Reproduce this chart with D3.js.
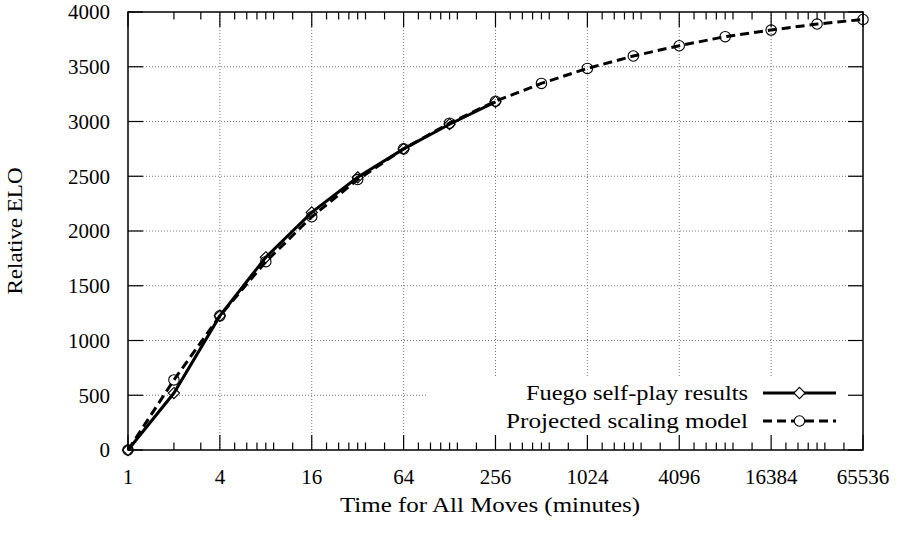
<!DOCTYPE html>
<html>
<head>
<meta charset="utf-8">
<script src="https://cdn.jsdelivr.net/npm/d3@7"></script>
<style>
  body { margin: 0; background: #fff; }
  text { font-family: "Liberation Serif", "DejaVu Serif", serif; fill: #000; }
</style>
</head>
<body>
<div id="chart"></div>
<script>
// minutes for all moves (powers of two)
const fuegoTimes = [1, 2, 4, 8, 16, 32, 64, 128, 256];
const fuegoElo = [0, 520, 1225, 1760, 2170, 2490, 2750, 2975, 3180];

const modelTimes = [1, 2, 4, 8, 16, 32, 64, 128, 256, 512, 1024, 2048, 4096, 8192, 16384, 32768, 65536];
const modelElo = [0, 640, 1225, 1720, 2130, 2470, 2750, 2985, 3185, 3348, 3485, 3598, 3692, 3775, 3835, 3890, 3932];

const xTicks = [1, 4, 16, 64, 256, 1024, 4096, 16384, 65536];
const yTicks = [0, 500, 1000, 1500, 2000, 2500, 3000, 3500, 4000];
// minor tick multiples inside each base-4 step
const firstMinor = [2, 3];
const minorMult = [1.25, 1.5, 1.75, 2, 2.25, 3];

const seriesNames = ["Fuego self-play results", "Projected scaling model"];

const width = 903, height = 537;
const margin = {top: 12, right: 40, bottom: 87, left: 128};

const svg = d3.select("#chart").append("svg")
    .attr("width", width)
    .attr("height", height);

const x = d3.scaleLog().base(4)
    .domain([1, 65536])
    .range([margin.left, width - margin.right]);

const y = d3.scaleLinear()
    .domain([0, 4000])
    .range([height - margin.bottom, margin.top]);

const x0 = x.range()[0], x1 = x.range()[1];
const yb = y.range()[0], yt = y.range()[1];

// minor tick values
let minorTicks = firstMinor.slice();
for (let k = 1; k < 8; k++) {
    minorMult.forEach(m => minorTicks.push(m * Math.pow(4, k)));
}

// grid
const grid = svg.append("g")
    .attr("stroke", "#777")
    .attr("stroke-width", 1)
    .attr("stroke-dasharray", "1,2");

grid.selectAll(".gx")
    .data(xTicks.slice(1, -1))
    .enter().append("line")
    .attr("x1", d => x(d)).attr("x2", d => x(d))
    .attr("y1", yt).attr("y2", yb);

grid.selectAll(".gy")
    .data(yTicks.slice(1, -1))
    .enter().append("line")
    .attr("x1", x0).attr("x2", x1)
    .attr("y1", d => y(d)).attr("y2", d => y(d));

// legend background hides the grid
svg.append("rect")
    .attr("x", 428).attr("y", 378)
    .attr("width", x1 - 428).attr("height", yb - 378)
    .attr("fill", "#fff");

// axes with mirrored ticks
const tk = svg.append("g").attr("stroke", "#000").attr("stroke-width", 1.2);

[yb, yt].forEach((yy, i) => {
    const dir = i === 0 ? -1 : 1;
    tk.selectAll(null).data(xTicks).enter().append("line")
        .attr("x1", d => x(d)).attr("x2", d => x(d))
        .attr("y1", yy).attr("y2", yy + dir * 15);
    tk.selectAll(null).data(minorTicks).enter().append("line")
        .attr("x1", d => x(d)).attr("x2", d => x(d))
        .attr("y1", yy).attr("y2", yy + dir * 7.5);
});

[x0, x1].forEach((xx, i) => {
    const dir = i === 0 ? 1 : -1;
    tk.selectAll(null).data(yTicks).enter().append("line")
        .attr("x1", xx).attr("x2", xx + dir * 15)
        .attr("y1", d => y(d)).attr("y2", d => y(d));
});

svg.append("rect")
    .attr("x", x0).attr("y", yt)
    .attr("width", x1 - x0).attr("height", yb - yt)
    .attr("fill", "none")
    .attr("stroke", "#000")
    .attr("stroke-width", 1.5);

// tick labels
svg.selectAll(".xl")
    .data(xTicks)
    .enter().append("text")
    .attr("x", d => x(d))
    .attr("y", yb + 34)
    .attr("text-anchor", "middle")
    .attr("font-size", 21)
    .text(d => d);

svg.selectAll(".yl")
    .data(yTicks)
    .enter().append("text")
    .attr("x", 110)
    .attr("y", d => y(d))
    .attr("dy", "0.35em")
    .attr("text-anchor", "end")
    .attr("font-size", 21)
    .text(d => d);

// axis titles
svg.append("text")
    .attr("x", 490)
    .attr("y", 512)
    .attr("text-anchor", "middle")
    .attr("font-size", 20)
    .attr("textLength", 300)
    .attr("lengthAdjust", "spacingAndGlyphs")
    .text("Time for All Moves (minutes)");

svg.append("text")
    .attr("transform", "translate(22," + ((yt + yb) / 2) + ") rotate(-90)")
    .attr("text-anchor", "middle")
    .attr("font-size", 20)
    .attr("textLength", 127)
    .attr("lengthAdjust", "spacingAndGlyphs")
    .text("Relative ELO");

// series
const fuego = fuegoTimes.map((t, i) => ({t: t, v: fuegoElo[i]}));
const model = modelTimes.map((t, i) => ({t: t, v: modelElo[i]}));

const line = d3.line()
    .x(d => x(d.t))
    .y(d => y(d.v));

const diamond = d3.symbol().type(d3.symbolDiamond2).size(80);
const circle = d3.symbol().type(d3.symbolCircle).size(85);

function drawSeries(data, dash, sym) {
    svg.append("path")
        .datum(data)
        .attr("fill", "none")
        .attr("stroke", "#000")
        .attr("stroke-width", 3)
        .attr("stroke-dasharray", dash)
        .attr("d", line);

    svg.selectAll(null)
        .data(data)
        .enter().append("path")
        .attr("transform", d => "translate(" + x(d.t) + "," + y(d.v) + ")")
        .attr("d", sym)
        .attr("fill", "none")
        .attr("stroke", "#000")
        .attr("stroke-width", 1.1);
}

drawSeries(model, "9,5", circle);
drawSeries(fuego, null, diamond);

// legend
const legend = svg.append("g");
const legendRows = [
    {name: seriesNames[0], dash: null, sym: diamond, y: 393, len: 222},
    {name: seriesNames[1], dash: "9,5", sym: circle, y: 421, len: 242}
];

legendRows.forEach(r => {
    legend.append("text")
        .attr("x", 748)
        .attr("y", r.y)
        .attr("dy", "0.35em")
        .attr("text-anchor", "end")
        .attr("font-size", 20)
        .attr("textLength", r.len)
        .attr("lengthAdjust", "spacingAndGlyphs")
        .text(r.name);
    legend.append("line")
        .attr("x1", 763).attr("x2", 836)
        .attr("y1", r.y).attr("y2", r.y)
        .attr("stroke", "#000")
        .attr("stroke-width", 3)
        .attr("stroke-dasharray", r.dash);
    legend.append("path")
        .attr("transform", "translate(799.5," + r.y + ")")
        .attr("d", r.sym)
        .attr("fill", "#fff")
        .attr("stroke", "#000")
        .attr("stroke-width", 1.1);
});
</script>
</body>
</html>
